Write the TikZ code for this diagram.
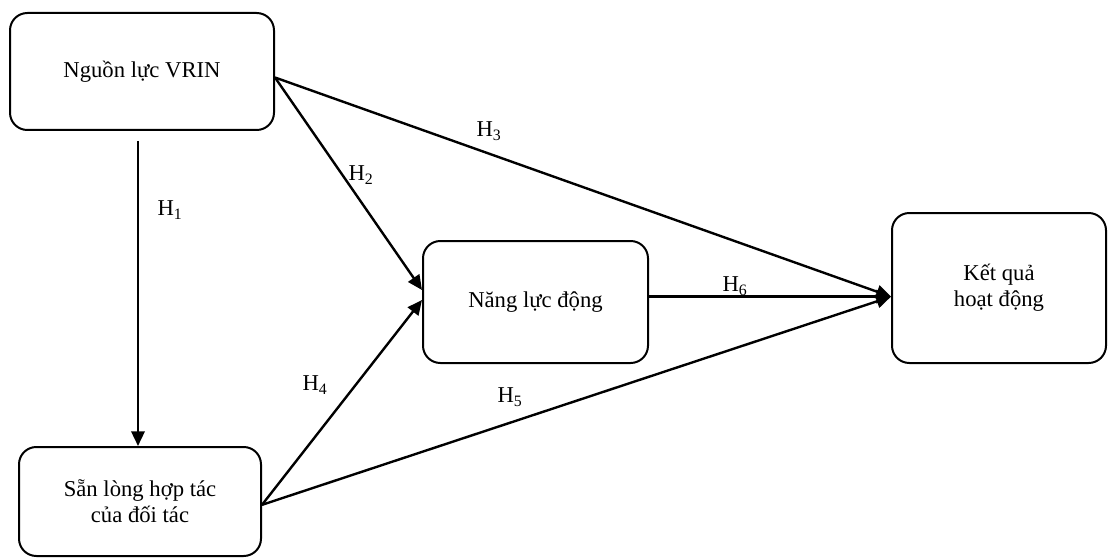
\documentclass[tikz,border=0pt]{standalone}
\usepackage{fontspec}
\setmainfont{Liberation Serif}
\usetikzlibrary{arrows.meta}
\tikzset{
  box/.style={draw, line width=1.5pt, rounded corners=13pt, align=center, font=\fontsize{17}{19.5}\selectfont, inner sep=0pt},
  conn/.style={line width=1.8pt, -{Triangle[length=11pt,width=10pt]}},
  lbl/.style={font=\fontsize{17}{20}\selectfont, inner sep=0pt}
}
\begin{document}
\begin{tikzpicture}[x=0.75pt,y=-0.75pt]
\useasboundingbox (0,0) rectangle (1108,560);
\node[box, minimum width=198pt, minimum height=87.75pt] (vrin) at (142,71.5) {Nguồn lực VRIN};
\node[box, minimum width=181.5pt, minimum height=81.75pt] (san) at (140,501.5) {Sẵn lòng hợp tác\\của đối tác};
\node[box, minimum width=168.75pt, minimum height=91.5pt] (nang) at (535.5,302) {Năng lực động};
\node[box, minimum width=160.5pt, minimum height=112.5pt] (ket) at (999,288) {Kết quả\\hoạt động};

\coordinate (h1s) at (138,141);
\draw[conn] (h1s) -- (h1s |- san.north);
\draw[conn] ([yshift=-4.5pt]vrin.east) -- ([yshift=9pt]nang.west);
\draw[conn] ([yshift=-4.5pt]vrin.east) -- ([yshift=-6.5pt]ket.west);
\draw[conn] ([yshift=-2.5pt]san.east) -- ([yshift=1.5pt]nang.west);
\draw[conn] ([yshift=-2.5pt]san.east) -- ([yshift=-6.5pt]ket.west);
\draw[conn] ([yshift=4pt]nang.east) -- ([yshift=-6.5pt]ket.west);

\node[lbl] (l1) at (170,210) {H\textsubscript{1}};
\node[lbl] (l2) at (361,175) {H\textsubscript{2}};
\node[lbl] (l3) at (489,131) {H\textsubscript{3}};
\node[lbl] (l4) at (315,385) {H\textsubscript{4}};
\node[lbl] (l5) at (510,397) {H\textsubscript{5}};
\node[lbl] (l6) at (735,286) {H\textsubscript{6}};
\end{tikzpicture}
\end{document}
